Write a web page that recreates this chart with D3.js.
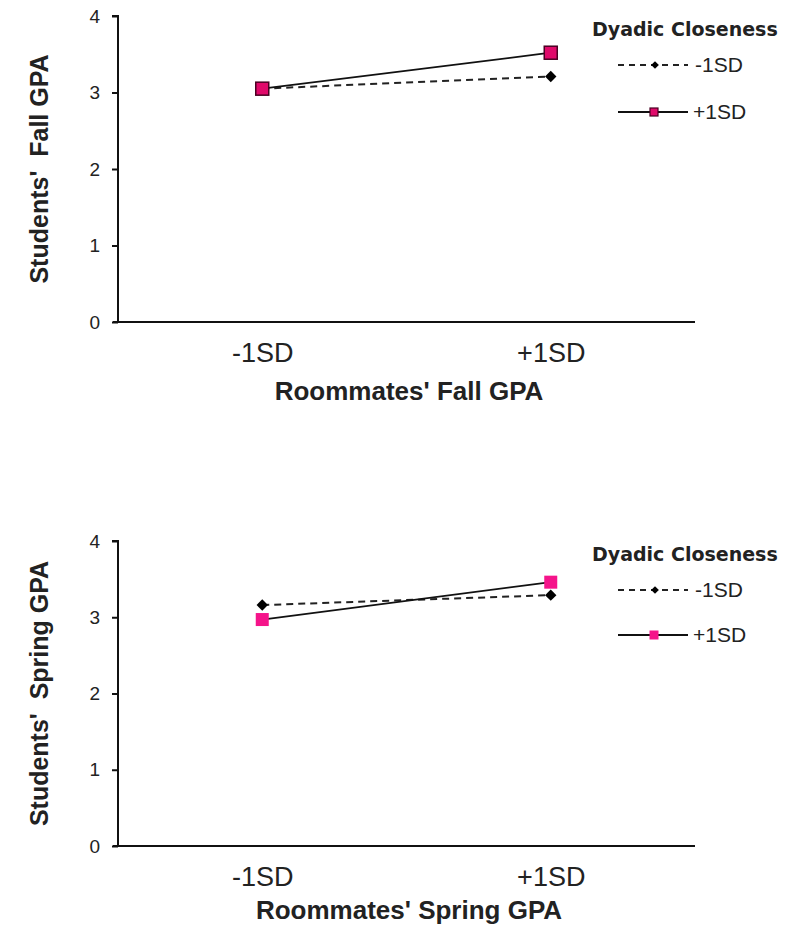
<!DOCTYPE html>
<html>
<head>
<meta charset="utf-8">
<script src="https://cdn.jsdelivr.net/npm/d3@7"></script>
<style>
  html, body { margin: 0; padding: 0; background: #fff; }
  svg { display: block; }
</style>
</head>
<body>
<svg id="chart" width="786" height="932"></svg>
<script>
// ---- Data ----
const categories = ["-1SD", "+1SD"];
const yTicks = [0, 1, 2, 3, 4];
const seriesNames = ["-1SD", "+1SD"];
const legendTitle = "Dyadic Closeness";

const fallLow = [3.05, 3.21];   // Dyadic closeness -1SD
const fallHigh = [3.05, 3.52];  // Dyadic closeness +1SD
const springLow = [3.16, 3.29];
const springHigh = [2.97, 3.46];

const panels = [
  { yTitle: "Students'  Fall GPA", xTitle: "Roommates' Fall GPA", low: fallLow, high: fallHigh,
    top: 16, bottom: 322, titleDy: 78, sqFill: "#e0096a", sqStroke: "#4a0022", legSq: 8, r2: 96 },
  { yTitle: "Students'  Spring GPA", xTitle: "Roommates' Spring GPA", low: springLow, high: springHigh,
    top: 541, bottom: 846, titleDy: 73, sqFill: "#f5148a", sqStroke: "none", legSq: 9, r2: 94 }
];

const svg = d3.select("#chart");
const left = 118, right = 695;
const sans = "Liberation Sans, Arial, sans-serif";

panels.forEach(p => {
  const x = d3.scalePoint().domain(categories).range([left, right]).padding(0.5);
  const y = d3.scaleLinear().domain([0, 4]).range([p.bottom, p.top]);
  const g = svg.append("g");

  // y axis
  const ya = g.append("g").attr("transform", `translate(${left},0)`)
    .call(d3.axisLeft(y).tickValues(yTicks).tickSize(6).tickPadding(12).tickFormat(d3.format("d")));
  ya.select(".domain").attr("stroke", "#111").attr("stroke-width", 2).attr("d", `M-6,${p.top}H0V${p.bottom}`);
  ya.selectAll(".tick line").attr("stroke", "#111").attr("stroke-width", 2);
  ya.selectAll(".tick text").attr("font-family", sans)
    .attr("font-size", 19).attr("fill", "#222");

  // x axis
  const xa = g.append("g").attr("transform", `translate(0,${p.bottom})`)
    .call(d3.axisBottom(x).tickSize(0).tickPadding(21));
  xa.select(".domain").attr("stroke", "#111").attr("stroke-width", 2).attr("d", `M${left - 5},0H${right}`);
  xa.selectAll(".tick text").attr("font-family", sans)
    .attr("font-size", 27).attr("fill", "#222");

  // axis titles
  g.append("text")
    .attr("x", 409).attr("y", p.bottom + p.titleDy)
    .attr("text-anchor", "middle").attr("font-family", sans)
    .attr("font-weight", "bold").attr("font-size", 26).attr("fill", "#222")
    .style("white-space", "pre").text(p.xTitle);
  g.append("text")
    .attr("transform", `translate(48,${(p.top + p.bottom) / 2}) rotate(-90)`)
    .attr("text-anchor", "middle").attr("font-family", sans)
    .attr("font-weight", "bold").attr("font-size", 25).attr("fill", "#222")
    .style("white-space", "pre").text(p.yTitle);

  const line = d3.line().x((d, i) => x(categories[i])).y(d => y(d));

  // low series (dashed, diamonds)
  g.append("path").datum(p.low).attr("d", line).attr("fill", "none")
    .attr("stroke", "#222").attr("stroke-width", 2).attr("stroke-dasharray", "7,5");
  // high series (solid, squares)
  g.append("path").datum(p.high).attr("d", line).attr("fill", "none")
    .attr("stroke", "#111").attr("stroke-width", 1.8);

  g.selectAll(".dia").data(p.low).enter().append("path")
    .attr("transform", (d, i) => `translate(${x(categories[i])},${y(d)}) rotate(45)`)
    .attr("d", d3.symbol().type(d3.symbolSquare).size(65)).attr("fill", "#000");

  const s = 13;
  g.selectAll(".sq").data(p.high).enter().append("rect")
    .attr("x", (d, i) => x(categories[i]) - s / 2).attr("y", d => y(d) - s / 2)
    .attr("width", s).attr("height", s).attr("fill", p.sqFill)
    .attr("stroke", p.sqStroke).attr("stroke-width", 1.5);

  // legend
  const lg = g.append("g");
  lg.append("text").attr("x", 592).attr("y", p.top + 20)
    .attr("font-family", "DejaVu Sans, Verdana, sans-serif").attr("font-weight", "bold")
    .attr("font-size", 19).attr("fill", "#222").text(legendTitle);

  const r1 = p.top + 49, r2 = p.top + p.r2;
  lg.append("line").attr("x1", 618).attr("x2", 688).attr("y1", r1).attr("y2", r1)
    .attr("stroke", "#222").attr("stroke-width", 1.8).attr("stroke-dasharray", "6,5");
  lg.append("path").attr("transform", `translate(655,${r1}) rotate(45)`)
    .attr("d", d3.symbol().type(d3.symbolSquare).size(30)).attr("fill", "#000");
  lg.append("text").attr("x", 695).attr("y", r1 + 7)
    .attr("font-family", sans).attr("font-size", 21).attr("fill", "#222")
    .text(seriesNames[0]);

  lg.append("line").attr("x1", 618).attr("x2", 688).attr("y1", r2).attr("y2", r2)
    .attr("stroke", "#111").attr("stroke-width", 1.8);
  lg.append("rect").attr("x", 654 - p.legSq / 2).attr("y", r2 - p.legSq / 2)
    .attr("width", p.legSq).attr("height", p.legSq).attr("fill", p.sqFill)
    .attr("stroke", p.sqStroke).attr("stroke-width", 1.2);
  lg.append("text").attr("x", 693).attr("y", r2 + 7)
    .attr("font-family", sans).attr("font-size", 21).attr("fill", "#222")
    .text(seriesNames[1]);
});
</script>
</body>
</html>
